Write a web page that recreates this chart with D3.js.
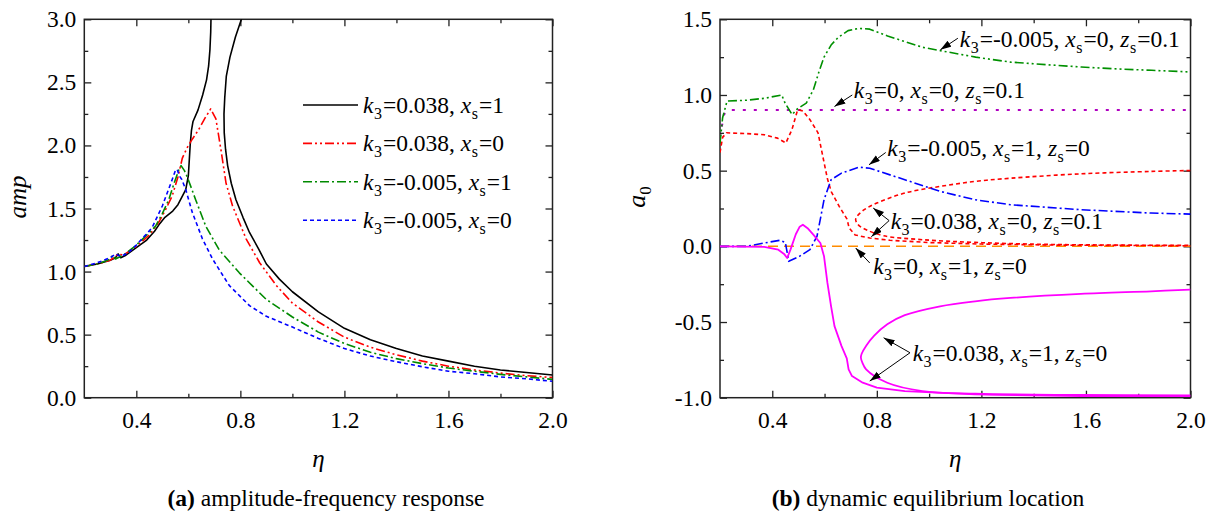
<!DOCTYPE html>
<html><head><meta charset="utf-8">
<script src="https://cdn.jsdelivr.net/npm/d3@7"></script>
<style>body{margin:0;background:#fff}</style>
</head><body>
<svg id="c" width="1217" height="519"></svg>
<script>
// ---------------- data ----------------
const etaMajorTicks = [0.4, 0.8, 1.2, 1.6, 2.0];
const etaMinorTicks = [0.6, 1.0, 1.4, 1.8];
const ampMajorTicks = [0, 0.5, 1.0, 1.5, 2.0, 2.5, 3.0];
const ampMinorTicks = [0.25, 0.75, 1.25, 1.75, 2.25, 2.75];
const a0MajorTicks = [-1.0, -0.5, 0, 0.5, 1.0, 1.5];
const a0MinorTicks = [-0.75, -0.25, 0.25, 0.75, 1.25];

// (a) amplitude-frequency response  [eta, amp]
const ampK038Xs1 = [[0.20,1.04],[0.25,1.06],[0.30,1.09],[0.32,1.11],[0.33,1.14],[0.34,1.11],[0.36,1.13],[0.40,1.19],[0.44,1.25],[0.47,1.32],[0.49,1.38],[0.51,1.43],[0.54,1.48],[0.56,1.53],[0.575,1.59],[0.59,1.65],[0.60,1.76],[0.607,2.0],[0.612,2.12],[0.618,2.19],[0.637,2.28],[0.655,2.40],[0.67,2.52],[0.678,2.63],[0.683,2.76],[0.686,2.90],[0.687,3.0],[0.688,3.3],
  [0.815,3.3],[0.804,3.0],[0.781,2.86],[0.76,2.70],[0.746,2.55],[0.740,2.38],[0.737,2.25],[0.738,2.10],[0.743,1.97],[0.751,1.84],[0.765,1.70],[0.783,1.57],[0.81,1.43],[0.835,1.31],[0.87,1.18],[0.90,1.06],[0.95,0.94],[1.0,0.84],[1.1,0.68],[1.2,0.55],[1.3,0.46],[1.4,0.39],[1.5,0.33],[1.6,0.29],[1.7,0.25],[1.8,0.22],[1.9,0.20],[2.0,0.18]];
const ampK038Xs0 = [[0.20,1.04],[0.25,1.06],[0.30,1.09],[0.32,1.12],[0.33,1.14],[0.35,1.13],[0.40,1.20],[0.45,1.29],[0.486,1.39],[0.51,1.48],[0.538,1.60],[0.56,1.75],[0.577,1.90],[0.595,1.98],[0.609,2.03],[0.641,2.13],[0.665,2.22],[0.686,2.29],[0.706,2.21],[0.725,1.97],[0.745,1.70],[0.77,1.52],[0.822,1.26],[0.874,1.07],[0.938,0.89],[1.0,0.75],[1.1,0.60],[1.2,0.48],[1.3,0.40],[1.4,0.34],[1.5,0.29],[1.6,0.25],[1.7,0.22],[1.8,0.195],[1.9,0.175],[2.0,0.16]];
const ampKm005Xs1 = [[0.20,1.04],[0.25,1.06],[0.30,1.10],[0.31,1.13],[0.32,1.10],[0.35,1.13],[0.40,1.21],[0.45,1.31],[0.474,1.36],[0.50,1.46],[0.525,1.57],[0.545,1.70],[0.564,1.81],[0.572,1.84],[0.585,1.80],[0.596,1.75],[0.628,1.57],[0.667,1.36],[0.719,1.17],[0.796,0.99],[0.899,0.78],[1.0,0.64],[1.1,0.52],[1.2,0.43],[1.3,0.36],[1.4,0.31],[1.5,0.27],[1.6,0.235],[1.7,0.21],[1.8,0.185],[1.9,0.165],[2.0,0.145]];
const ampKm005Xs0 = [[0.20,1.04],[0.25,1.07],[0.30,1.11],[0.32,1.14],[0.34,1.12],[0.37,1.15],[0.40,1.21],[0.44,1.30],[0.461,1.35],[0.50,1.52],[0.538,1.73],[0.55,1.80],[0.557,1.81],[0.565,1.76],[0.575,1.73],[0.59,1.65],[0.615,1.47],[0.654,1.26],[0.693,1.10],[0.757,0.89],[0.835,0.73],[0.9,0.645],[1.0,0.56],[1.1,0.47],[1.2,0.39],[1.3,0.33],[1.4,0.285],[1.5,0.245],[1.6,0.21],[1.7,0.19],[1.8,0.165],[1.9,0.15],[2.0,0.13]];
const legendLabelsA = ["k_3=0.038, x_s=1","k_3=0.038, x_s=0","k_3=-0.005, x_s=1","k_3=-0.005, x_s=0"];

// (b) dynamic equilibrium location  [eta, a0]
const a0Km005Xs0Zs01 = [[0.2,0.68],[0.21,0.85],[0.227,0.96],[0.30,0.965],[0.37,0.978],[0.436,1.0],[0.449,0.946],[0.476,0.87],[0.497,0.91],[0.53,0.946],[0.557,1.033],[0.578,1.15],[0.598,1.25],[0.625,1.33],[0.652,1.38],[0.69,1.425],[0.73,1.44],[0.773,1.435],[0.841,1.39],[0.975,1.315],[1.043,1.293],[1.178,1.25],[1.312,1.217],[1.45,1.20],[1.582,1.185],[1.72,1.172],[1.852,1.163],[2.0,1.152]];
const a0K0Xs0Zs01 = [[0.2,0.72],[0.215,0.87],[0.23,0.9],[0.5,0.9],[1.0,0.9],[1.5,0.9],[2.0,0.9]];
const a0K038Xs0Zs01 = [[0.2,0.62],[0.21,0.72],[0.225,0.75],[0.30,0.745],[0.37,0.737],[0.42,0.715],[0.452,0.683],[0.475,0.77],[0.497,0.902],[0.517,0.895],[0.544,0.837],[0.575,0.75],[0.596,0.572],[0.611,0.446],[0.626,0.36],[0.656,0.264],[0.686,0.18],[0.694,0.121],[0.717,0.075],[0.773,0.055],[0.85,0.04],[1.0,0.025],[1.2,0.015],[1.5,0.008],[2.0,0.004]];
const a0K038Xs0Zs01Loop = [[2.0,0.501],[1.849,0.495],[1.58,0.479],[1.311,0.45],[1.176,0.429],[1.042,0.396],[0.907,0.352],[0.8,0.286],[0.752,0.242],[0.725,0.2],[0.719,0.176],[0.73,0.14],[0.759,0.11],[0.826,0.07],[0.974,0.044],[1.176,0.026],[1.445,0.013],[2.0,0.006]];
const a0Km005Xs1Zs0 = [[0.2,0],[0.302,0],[0.369,0.022],[0.43,0.04],[0.45,0.026],[0.463,-0.099],[0.504,-0.066],[0.544,-0.022],[0.571,0.066],[0.585,0.19],[0.598,0.308],[0.625,0.44],[0.665,0.484],[0.732,0.523],[0.773,0.516],[0.907,0.44],[1.042,0.363],[1.176,0.308],[1.311,0.275],[1.58,0.242],[1.849,0.22],[2.0,0.213]];
const a0K0Xs1Zs0 = [[0.2,0],[0.6,0],[1.0,0],[1.5,0],[2.0,0]];
const a0K038Xs1Zs0 = [[0.2,0],[0.369,-0.004],[0.423,-0.022],[0.445,-0.05],[0.457,-0.077],[0.47,-0.02],[0.49,0.08],[0.505,0.13],[0.517,0.143],[0.535,0.12],[0.557,0.077],[0.575,0.04],[0.584,0.022],[0.598,-0.066],[0.611,-0.242],[0.625,-0.396],[0.638,-0.527],[0.665,-0.659],[0.685,-0.74],[0.692,-0.813],[0.705,-0.857],[0.746,-0.901],[0.8,-0.934],[0.907,-0.956],[1.176,-0.978],[1.58,-0.989],[2.0,-0.99]];
const a0K038Xs1Zs0Loop = [[2.0,-0.286],[1.849,-0.297],[1.58,-0.314],[1.311,-0.341],[1.176,-0.363],[1.042,-0.396],[0.907,-0.455],[0.84,-0.515],[0.79,-0.59],[0.76,-0.655],[0.742,-0.71],[0.739,-0.736],[0.745,-0.77],[0.759,-0.813],[0.84,-0.901],[0.974,-0.956],[1.176,-0.974],[1.58,-0.982],[2.0,-0.985]];
const annotationLabelsB = ["k_3=-0.005, x_s=0, z_s=0.1","k_3=0, x_s=0, z_s=0.1","k_3=-0.005, x_s=1, z_s=0","k_3=0.038, x_s=0, z_s=0.1","k_3=0, x_s=1, z_s=0","k_3=0.038, x_s=1, z_s=0"];

// ---------------- drawing ----------------
const FAMILY = "Liberation Serif";
const svg = d3.select("#c");
const FS = 23.5;
const SUB = 16;
const fmt = d => d.toFixed(1);

svg.append("defs").append("marker")
  .attr("id","arr").attr("markerUnits","userSpaceOnUse")
  .attr("markerWidth",12).attr("markerHeight",8).attr("refX",11).attr("refY",3.5)
  .attr("orient","auto")
  .append("path").attr("d","M0,0 L11,3.5 L0,7 Z").attr("fill","#000");

function txt(sel) {
  return sel.append("text").attr("font-family", FAMILY).attr("fill","#000");
}

function richText(sel, label, size) {
  const parts = label.split(/([kxz]_[0-9s])/).filter(s => s.length);
  let shifted = false;
  parts.forEach(p => {
    const m = p.match(/^([kxz])_([0-9s])$/);
    if (m) {
      sel.append("tspan").attr("font-family",FAMILY).attr("font-style","italic").attr("font-size",size)
        .attr("dy", shifted ? -6 : 0).text(m[1]);
      sel.append("tspan").attr("font-family",FAMILY).attr("font-size",SUB).attr("dy",6).attr("dx",0.5).text(m[2]);
      shifted = true;
    } else {
      sel.append("tspan").attr("font-family",FAMILY).attr("font-size",size).attr("dy", shifted ? -6 : 0).attr("dx",1).text(p);
      shifted = false;
    }
  });
}

function frame(p, x, y, yMaj, yMin, id) {
  const g = svg.append("g");
  const styleAxis = a => {
    a.attr("font-family", FAMILY);
    a.select(".domain").remove();
    a.selectAll("line").attr("stroke","#222").attr("stroke-width",1.3);
    a.selectAll("text").attr("font-family",FAMILY).attr("font-size",FS).attr("fill","#000");
  };
  g.append("g").attr("transform",`translate(0,${p.y1})`)
    .call(d3.axisBottom(x).tickValues(etaMajorTicks).tickSizeInner(-7).tickSizeOuter(0).tickPadding(13.5).tickFormat(fmt)).call(styleAxis);
  g.append("g").attr("transform",`translate(0,${p.y1})`)
    .call(d3.axisBottom(x).tickValues(etaMinorTicks).tickSizeInner(-4).tickSizeOuter(0).tickFormat("")).call(styleAxis);
  g.append("g").attr("transform",`translate(0,${p.y0})`)
    .call(d3.axisTop(x).tickValues(etaMajorTicks).tickSizeInner(-7).tickSizeOuter(0).tickFormat("")).call(styleAxis);
  g.append("g").attr("transform",`translate(0,${p.y0})`)
    .call(d3.axisTop(x).tickValues(etaMinorTicks).tickSizeInner(-4).tickSizeOuter(0).tickFormat("")).call(styleAxis);
  g.append("g").attr("transform",`translate(${p.x0},0)`)
    .call(d3.axisLeft(y).tickValues(yMaj).tickSizeInner(-7).tickSizeOuter(0).tickPadding(8).tickFormat(fmt)).call(styleAxis);
  g.append("g").attr("transform",`translate(${p.x0},0)`)
    .call(d3.axisLeft(y).tickValues(yMin).tickSizeInner(-4).tickSizeOuter(0).tickFormat("")).call(styleAxis);
  g.append("g").attr("transform",`translate(${p.x1},0)`)
    .call(d3.axisRight(y).tickValues(yMaj).tickSizeInner(-7).tickSizeOuter(0).tickFormat("")).call(styleAxis);
  g.append("g").attr("transform",`translate(${p.x1},0)`)
    .call(d3.axisRight(y).tickValues(yMin).tickSizeInner(-4).tickSizeOuter(0).tickFormat("")).call(styleAxis);
  g.append("rect").attr("x",p.x0).attr("y",p.y0).attr("width",p.x1-p.x0).attr("height",p.y1-p.y0)
    .attr("fill","none").attr("stroke","#222").attr("stroke-width",1.5);
  svg.select("defs").append("clipPath").attr("id",id)
    .append("rect").attr("x",p.x0).attr("y",p.y0).attr("width",p.x1-p.x0).attr("height",p.y1-p.y0);
}

function curve(x, y, data, color, dash, width, clip, smooth) {
  const line = d3.line().x(d => x(d[0])).y(d => y(d[1]));
  if (smooth) line.curve(d3.curveCatmullRom.alpha(0.5));
  svg.append("path").attr("d", line(data)).attr("fill","none")
    .attr("stroke", color).attr("stroke-width", width || 1.5)
    .attr("stroke-dasharray", dash || null).attr("stroke-linejoin","round")
    .attr("clip-path", `url(#${clip})`);
}

// ---- panel (a)
const pA = {x0:84.3, x1:552.5, y0:19.3, y1:397.7};
const xA = d3.scaleLinear().domain([0.2, 2.0]).range([pA.x0, pA.x1]);
const yA = d3.scaleLinear().domain([0, 3.0]).range([pA.y1, pA.y0]);
frame(pA, xA, yA, ampMajorTicks, ampMinorTicks, "clipA");

const stylesA = [
  {c:"#000000", d:null},
  {c:"#ff0000", d:"9,3,2,3,2,3"},
  {c:"#008a00", d:"9,3,2,3"},
  {c:"#0000ff", d:"4,3"}
];
[ampK038Xs1, ampK038Xs0, ampKm005Xs1, ampKm005Xs0].forEach((s,i) => curve(xA, yA, s, stylesA[i].c, stylesA[i].d, 1.6, "clipA", false));

legendLabelsA.forEach((lab,i) => {
  const yy = 105 + i*38.4;
  svg.append("line").attr("x1",303).attr("x2",358).attr("y1",yy).attr("y2",yy)
    .attr("stroke",stylesA[i].c).attr("stroke-width",1.6).attr("stroke-dasharray",stylesA[i].d);
  const t = txt(svg).attr("x",363).attr("y",yy+8);
  richText(t, lab, FS);
});

txt(svg).attr("transform",`translate(26,197) rotate(-90)`).attr("text-anchor","middle")
  .attr("font-style","italic").attr("font-size",25).text("amp");
txt(svg).attr("x",(pA.x0+pA.x1)/2).attr("y",467).attr("text-anchor","middle")
  .attr("font-style","italic").attr("font-size",25).text("η");
const capA = txt(svg).attr("x",326).attr("y",506).attr("text-anchor","middle").attr("font-size",FS);
capA.append("tspan").attr("font-family",FAMILY).attr("font-weight","bold").text("(a)");
capA.append("tspan").attr("font-family",FAMILY).text(" amplitude-frequency response");

// ---- panel (b)
const pB = {x0:720, x1:1190.5, y0:19.3, y1:397.7};
const xB = d3.scaleLinear().domain([0.2, 2.0]).range([pB.x0, pB.x1]);
const yB = d3.scaleLinear().domain([-1.0, 1.5]).range([pB.y1, pB.y0]);
frame(pB, xB, yB, a0MajorTicks, a0MinorTicks, "clipB");

curve(xB, yB, a0K0Xs1Zs0, "#ff8c00", "10,6", 1.5, "clipB");
curve(xB, yB, a0K0Xs0Zs01, "#b000c0", "3,8", 2, "clipB");
curve(xB, yB, a0Km005Xs0Zs01, "#009000", "9,3,2,3,2,3", 1.6, "clipB");
curve(xB, yB, a0K038Xs0Zs01, "#ff0000", "4,3", 1.6, "clipB");
curve(xB, yB, a0K038Xs0Zs01Loop, "#ff0000", "4,3", 1.6, "clipB", true);
curve(xB, yB, a0Km005Xs1Zs0, "#0000ff", "9,3,2,3", 1.6, "clipB");
curve(xB, yB, a0K038Xs1Zs0, "#ff00ff", null, 1.8, "clipB");
curve(xB, yB, a0K038Xs1Zs0Loop, "#ff00ff", null, 1.8, "clipB", true);

// annotations: text anchor (eta, a0) and arrows [fromEta, fromA, toEta, toA]
const annPos = [
  {t:[1.117,1.315], arrows:[[1.11,1.375,1.043,1.298]]},
  {t:[0.712,0.978], arrows:[[0.706,1.0,0.638,0.924]]},
  {t:[0.84,0.596], arrows:[[0.834,0.62,0.77,0.539]]},
  {t:[0.853,0.113], arrows:[[0.847,0.17,0.786,0.253],[0.847,0.17,0.779,0.064]]},
  {t:[0.786,-0.18], arrows:[[0.773,-0.11,0.719,-0.011]]},
  {t:[0.937,-0.755], arrows:[[0.927,-0.703,0.826,-0.604],[0.927,-0.703,0.773,-0.89]]}
];
annotationLabelsB.forEach((lab,i) => {
  const a = annPos[i];
  a.arrows.forEach(r => {
    svg.append("line").attr("x1",xB(r[0])).attr("y1",yB(r[1])).attr("x2",xB(r[2])).attr("y2",yB(r[3]))
      .attr("stroke","#000").attr("stroke-width",1).attr("marker-end","url(#arr)");
  });
  const t = txt(svg).attr("x",xB(a.t[0])).attr("y",yB(a.t[1]));
  richText(t, lab, FS);
});

const yl = txt(svg).attr("transform",`translate(645,197) rotate(-90)`).attr("text-anchor","middle").attr("font-size",26);
yl.append("tspan").attr("font-family",FAMILY).attr("font-style","italic").text("a");
yl.append("tspan").attr("font-family",FAMILY).attr("font-size",17).attr("dy",6).text("0");
txt(svg).attr("x",(pB.x0+pB.x1)/2).attr("y",467).attr("text-anchor","middle")
  .attr("font-style","italic").attr("font-size",25).text("η");
const capB = txt(svg).attr("x",928).attr("y",506).attr("text-anchor","middle").attr("font-size",FS);
capB.append("tspan").attr("font-family",FAMILY).attr("font-weight","bold").text("(b)");
capB.append("tspan").attr("font-family",FAMILY).text(" dynamic equilibrium location");
</script>
</body></html>
